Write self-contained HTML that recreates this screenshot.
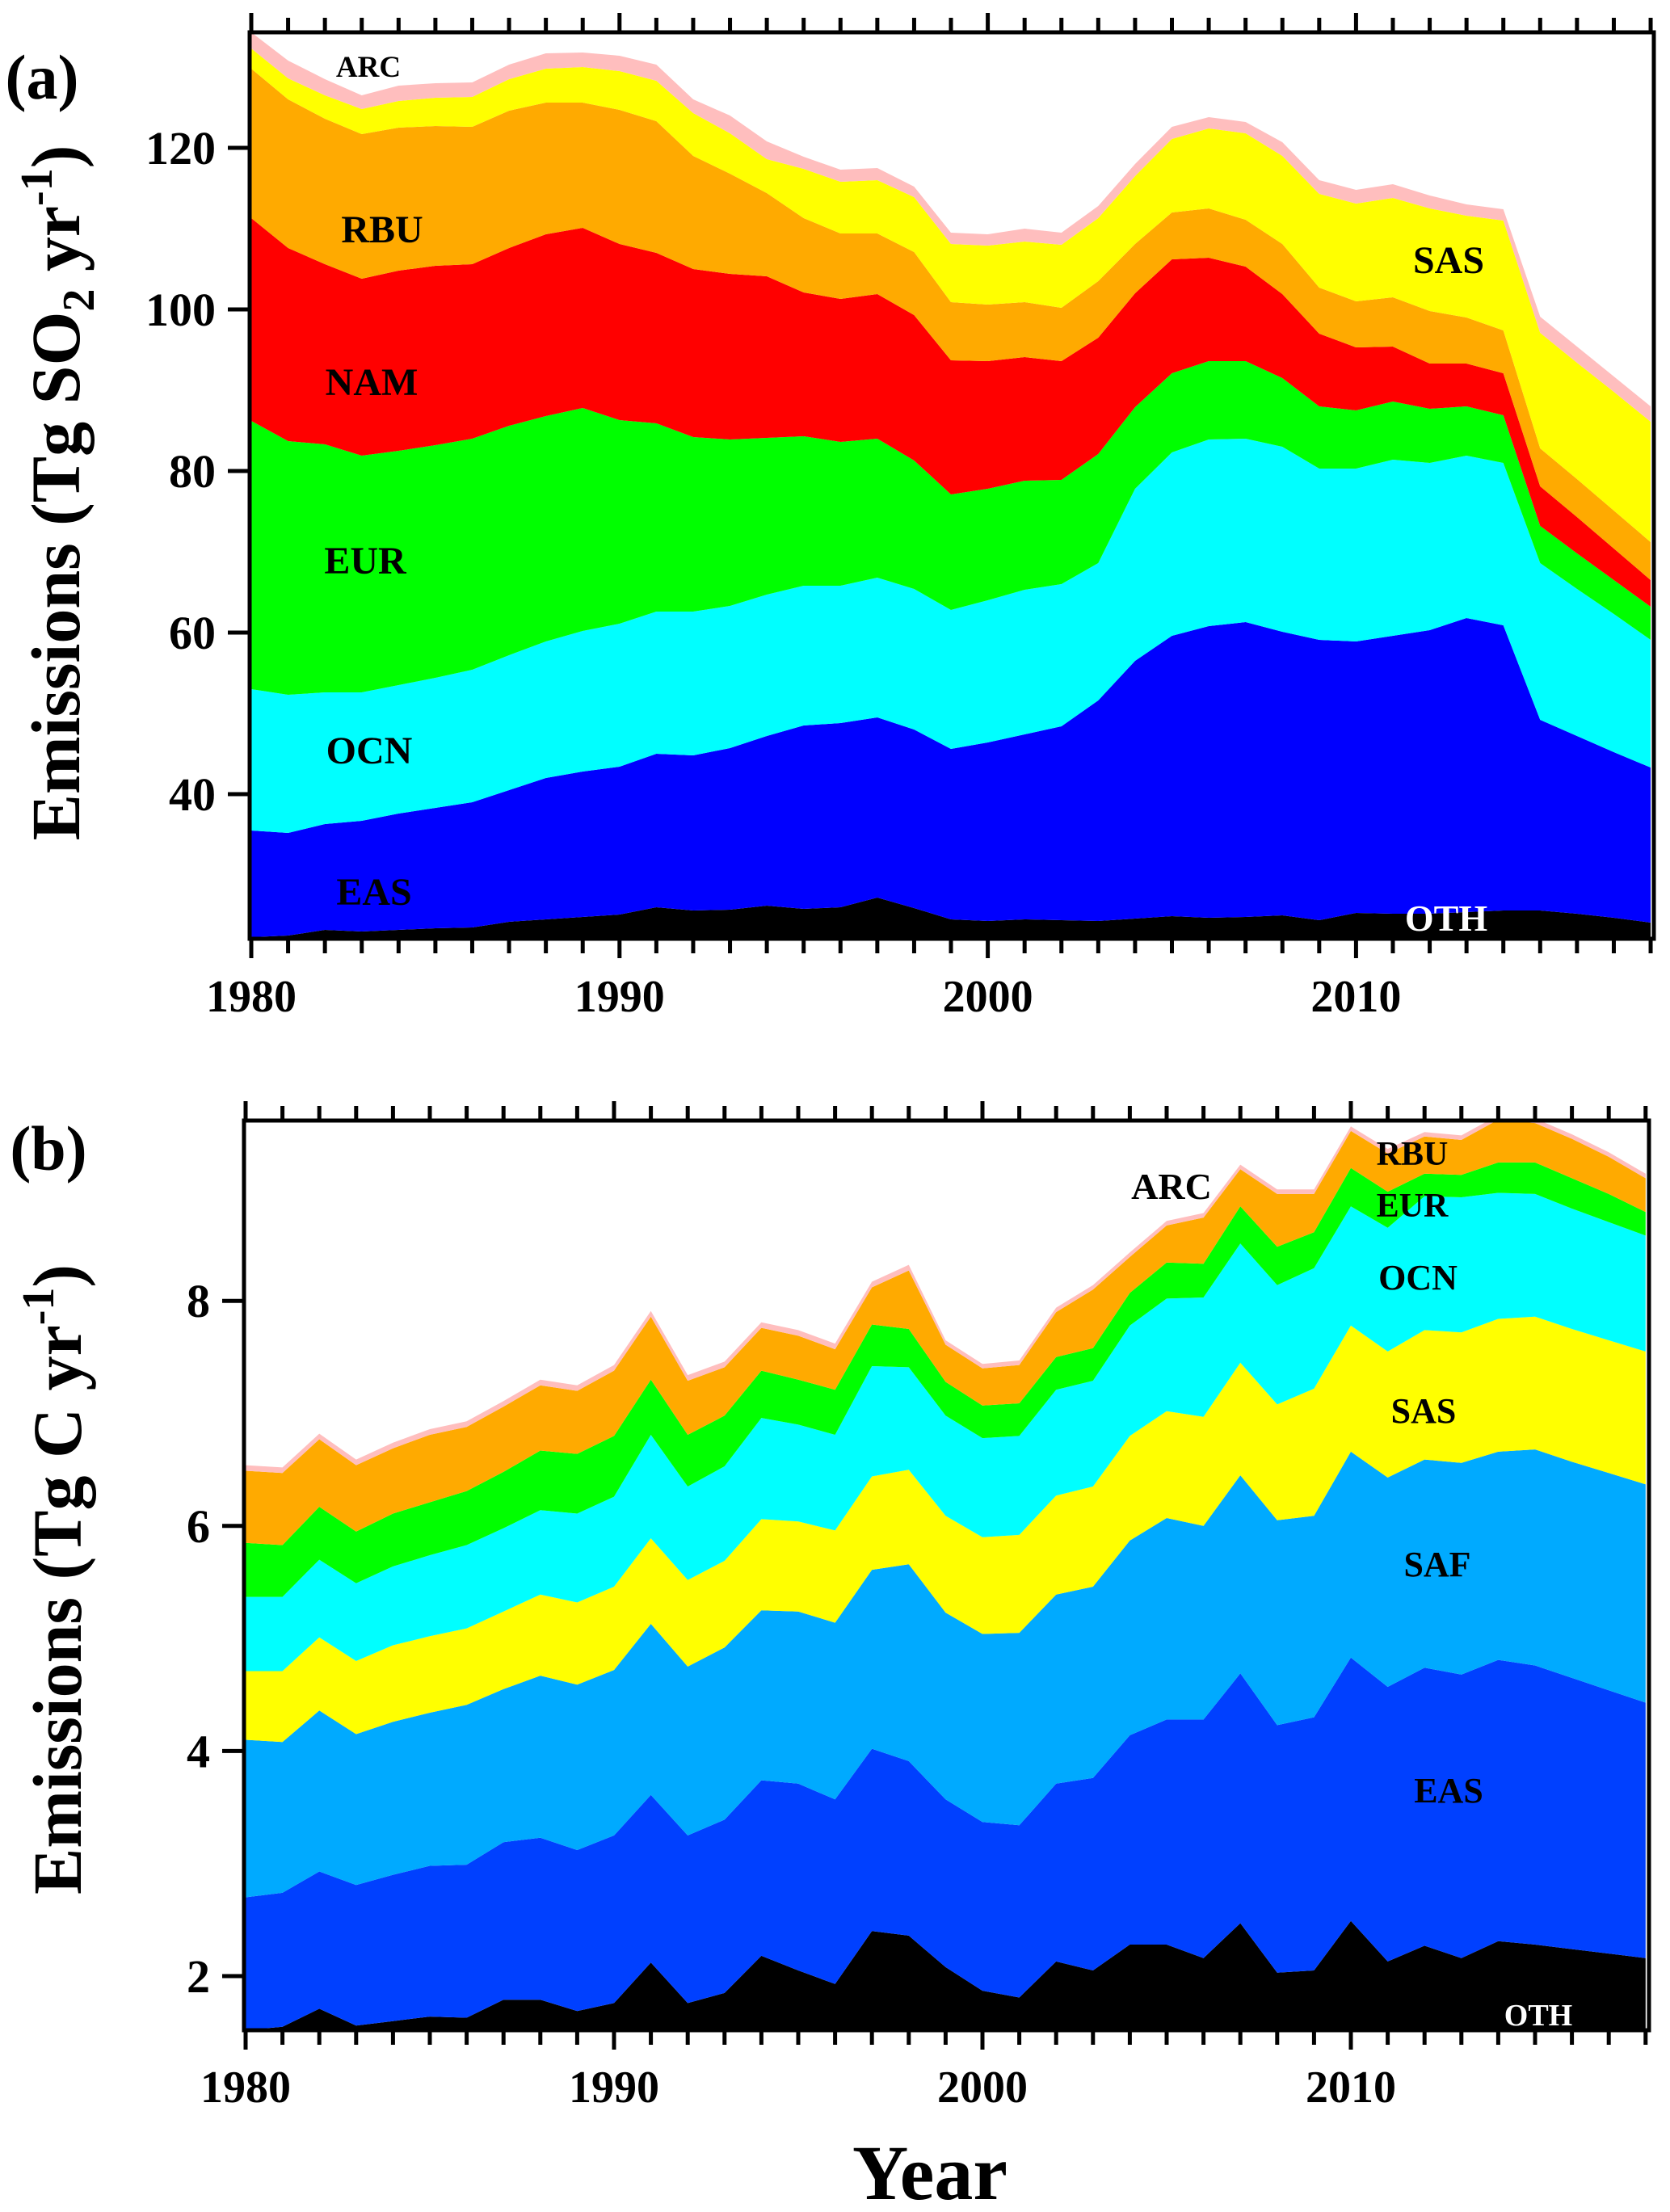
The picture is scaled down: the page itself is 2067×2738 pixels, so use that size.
<!DOCTYPE html>
<html>
<head>
<meta charset="utf-8">
<style>
  html,body{margin:0;padding:0;background:#fff;}
  svg{display:block;}
  text{font-family:"Liberation Serif","Times New Roman",serif;font-weight:bold;}
</style>
</head>
<body>
<svg id="fig" xmlns="http://www.w3.org/2000/svg" width="2067" height="2738" viewBox="0 0 2067 2738">
  <defs>
    <clipPath id="clipA"><rect x="309" y="40" width="1738" height="1122"/></clipPath>
    <clipPath id="clipB"><rect x="302" y="1387" width="1739" height="1126"/></clipPath>
  </defs>
  <g id="panelA"></g>
  <g id="panelB"></g>
  <text x="52" y="122" font-size="78" text-anchor="middle">(a)</text>
  <text x="60" y="1448" font-size="78" text-anchor="middle">(b)</text>
  <text transform="translate(98,610) rotate(-90)" font-size="86" text-anchor="middle">Emissions (Tg SO<tspan font-size="56" dy="18">2</tspan><tspan dy="-18"> yr</tspan><tspan font-size="56" dy="-34">-1</tspan><tspan dy="34">)</tspan></text>
  <text transform="translate(100,1955) rotate(-90)" font-size="86" text-anchor="middle">Emissions (Tg C yr<tspan font-size="56" dy="-34">-1</tspan><tspan dy="34">)</tspan></text>
  <text x="1151" y="2722" font-size="96" text-anchor="middle">Year</text>
</svg>
<script>
// ---------- shared ----------
const years = [1980,1981,1982,1983,1984,1985,1986,1987,1988,1989,1990,1991,1992,1993,1994,1995,1996,1997,1998,1999,2000,2001,2002,2003,2004,2005,2006,2007,2008,2009,2010,2011,2012,2013,2014,2015,2016,2017,2018];
const xTickLabels = [1980,1990,2000,2010];

// ---------- panel (a) SO2, Tg SO2/yr ----------
const regionsA = ["OTH","EAS","OCN","EUR","NAM","RBU","SAS","ARC"];
const othA = [22.3,22.5,23.2,23.0,23.2,23.4,23.5,24.2,24.5,24.8,25.1,26.0,25.6,25.7,26.2,25.8,26.0,27.2,25.9,24.5,24.3,24.5,24.4,24.3,24.6,24.9,24.7,24.8,25.0,24.4,25.3,25.2,25.2,25.4,25.6,25.6,25.2,24.7,24.1];
const easA = [13.2,12.7,13.1,13.7,14.4,14.9,15.5,16.3,17.5,18.0,18.3,19.0,19.2,20.0,21.0,22.7,22.8,22.3,22.1,21.1,22.1,22.9,24.0,27.3,31.9,34.7,36.1,36.5,35.1,34.7,33.6,34.4,35.1,36.4,35.3,23.6,22.0,20.5,19.2];
const ocnA = [17.5,17.1,16.3,15.9,15.9,16.1,16.4,16.7,16.9,17.4,17.7,17.6,17.8,17.6,17.5,17.3,17.0,17.3,17.4,17.2,17.6,17.9,17.6,17.0,21.3,22.7,23.1,22.7,22.9,21.2,21.4,21.8,20.7,20.1,20.1,19.4,18.2,17.1,15.8];
const eurA = [33.2,31.4,30.7,29.3,29.0,28.8,28.6,28.4,27.9,27.6,25.2,23.3,21.6,20.6,19.4,18.5,17.8,17.2,15.9,14.3,13.8,13.5,12.9,13.5,10.1,9.8,9.7,9.6,8.5,7.7,7.2,7.2,6.7,6.1,5.9,4.6,4.4,4.2,4.1];
const namA = [25.1,23.9,22.3,21.9,22.3,22.2,21.6,22.0,22.5,22.3,21.8,21.1,20.8,20.5,20.0,17.8,17.7,17.9,18.0,16.6,15.8,15.3,14.7,14.4,14.1,14.1,12.8,11.7,10.4,9.0,7.8,6.8,5.6,5.3,5.2,4.9,4.5,3.9,3.3];
const rbuA = [18.5,18.4,18.0,17.9,17.7,17.3,17.0,17.0,16.3,15.5,16.6,16.3,14.0,12.4,10.3,9.2,8.1,7.5,7.8,7.2,7.0,6.8,6.6,7.0,6.1,5.8,6.1,5.8,6.2,5.7,5.7,6.1,6.5,5.7,5.3,4.7,4.7,4.7,4.7];
const sasA = [2.5,2.6,2.9,3.1,3.3,3.5,3.7,3.9,4.2,4.4,4.8,5.0,5.3,5.0,4.2,6.1,6.4,6.6,6.8,7.2,7.3,7.5,7.8,7.8,8.4,9.1,9.9,10.7,10.9,11.6,12.1,12.3,12.7,12.6,13.6,14.3,14.4,14.7,14.9];
const arcA = [2.0,2.2,2.0,1.7,1.9,1.8,1.8,1.8,1.9,1.8,1.9,2.0,1.7,2.2,2.2,1.5,1.5,1.5,1.3,1.4,1.4,1.6,1.5,1.5,1.5,1.5,1.4,1.4,1.7,1.7,1.7,1.7,1.6,1.4,1.4,2.0,2.0,1.9,1.9];
const yTicksA = [40,60,80,100,120];

// ---------- panel (b) carbon, Tg C/yr ----------
const regionsB = ["OTH","EAS","SAF","SAS","OCN","EUR","RBU","ARC"];
const othB = [1.52,1.55,1.71,1.56,1.60,1.64,1.63,1.79,1.79,1.69,1.76,2.12,1.76,1.85,2.18,2.05,1.93,2.40,2.36,2.08,1.87,1.81,2.13,2.05,2.28,2.28,2.16,2.47,2.03,2.05,2.49,2.13,2.27,2.16,2.31,2.28,2.24,2.20,2.16];
const easB = [1.18,1.19,1.22,1.25,1.30,1.34,1.36,1.40,1.44,1.43,1.49,1.49,1.49,1.54,1.56,1.66,1.64,1.62,1.55,1.49,1.50,1.53,1.58,1.71,1.86,2.00,2.12,2.22,2.20,2.25,2.34,2.44,2.47,2.52,2.50,2.48,2.41,2.34,2.27];
const safB = [1.40,1.34,1.43,1.34,1.36,1.36,1.42,1.36,1.44,1.47,1.47,1.52,1.50,1.53,1.51,1.53,1.57,1.59,1.75,1.66,1.67,1.71,1.68,1.70,1.73,1.79,1.72,1.76,1.82,1.79,1.83,1.86,1.85,1.88,1.85,1.92,1.92,1.93,1.94];
const sasB = [0.61,0.63,0.65,0.65,0.68,0.68,0.68,0.69,0.72,0.73,0.74,0.76,0.77,0.77,0.81,0.80,0.82,0.83,0.84,0.86,0.86,0.87,0.88,0.89,0.93,0.95,0.97,1.00,1.03,1.13,1.12,1.12,1.15,1.16,1.18,1.18,1.18,1.18,1.18];
const ocnB = [0.66,0.66,0.69,0.69,0.70,0.72,0.74,0.74,0.75,0.79,0.80,0.92,0.83,0.84,0.90,0.86,0.85,0.98,0.91,0.89,0.88,0.88,0.94,0.94,0.98,1.00,1.06,1.06,1.06,1.07,1.06,1.10,1.19,1.20,1.12,1.09,1.07,1.05,1.03];
const eurB = [0.48,0.46,0.47,0.46,0.47,0.47,0.48,0.50,0.53,0.53,0.54,0.49,0.46,0.45,0.42,0.40,0.40,0.37,0.34,0.30,0.29,0.29,0.29,0.29,0.29,0.32,0.30,0.33,0.34,0.32,0.34,0.32,0.20,0.20,0.27,0.28,0.27,0.25,0.21];
const rbuB = [0.64,0.64,0.60,0.59,0.58,0.60,0.57,0.58,0.58,0.56,0.58,0.56,0.48,0.43,0.38,0.39,0.36,0.33,0.52,0.33,0.33,0.34,0.40,0.52,0.32,0.33,0.41,0.33,0.47,0.34,0.33,0.34,0.33,0.31,0.38,0.35,0.35,0.33,0.30];
const arcB = [0.05,0.05,0.05,0.05,0.05,0.05,0.05,0.05,0.05,0.05,0.05,0.05,0.05,0.05,0.05,0.05,0.05,0.05,0.05,0.04,0.04,0.04,0.04,0.04,0.04,0.04,0.04,0.04,0.04,0.04,0.04,0.04,0.04,0.04,0.04,0.04,0.04,0.04,0.04];
const yTicksB = [2,4,6,8];

// ---------- drawing ----------
const NS = "http://www.w3.org/2000/svg";
function mk(tag, parent){ const e = document.createElementNS(NS, tag); parent.appendChild(e); return e; }

function drawPanel(g, cfg){
  const xOf = yr => cfg.x0 + (yr - 1980) * cfg.dx;
  const yOf = v => cfg.yRef - (v - cfg.vRef) * cfg.dy;
  const areas = mk("g", g);
  areas.setAttribute("clip-path", "url(#" + cfg.clip + ")");
  
  
  let lower = years.map(() => 0);
  cfg.series.forEach((vals, si) => {
    const upper = lower.map((l, i) => l + vals[i]);
    let pts = years.map((yr, i) => xOf(yr).toFixed(1) + "," + yOf(upper[i]).toFixed(1));
    for (let i = years.length - 1; i >= 0; i--) pts.push(xOf(years[i]).toFixed(1) + "," + yOf(lower[i]).toFixed(1));
    const p = mk("polygon", areas);
    p.setAttribute("points", pts.join(" "));
    p.setAttribute("fill", cfg.colors[si]);
    
    
    lower = upper;
  });
  // frame
  const f = mk("rect", g);
  f.setAttribute("x", cfg.L); f.setAttribute("y", cfg.T);
  f.setAttribute("width", cfg.R - cfg.L); f.setAttribute("height", cfg.B - cfg.T);
  f.setAttribute("fill", "none"); f.setAttribute("stroke", "#000"); f.setAttribute("stroke-width", "5");
  
  
  // x ticks top & bottom
  years.forEach(yr => {
    const x = xOf(yr);
    const major = (yr % 10 === 0);
    const tb = mk("line", g);
    tb.setAttribute("x1", x); tb.setAttribute("x2", x);
    tb.setAttribute("y1", cfg.B); tb.setAttribute("y2", cfg.B + (major ? 24 : 18));
    tb.setAttribute("stroke", "#000"); tb.setAttribute("stroke-width", "5");
    
    
    const tt = mk("line", g);
    tt.setAttribute("x1", x); tt.setAttribute("x2", x);
    tt.setAttribute("y1", cfg.T); tt.setAttribute("y2", cfg.T - (major ? 24 : 18));
    tt.setAttribute("stroke", "#000"); tt.setAttribute("stroke-width", "5");
    
    
  });
  xTickLabels.forEach(yr => {
    const t = mk("text", g);
    t.setAttribute("x", xOf(yr)); t.setAttribute("y", cfg.xLabelY);
    t.setAttribute("font-size", "56"); t.setAttribute("text-anchor", "middle");
    t.textContent = yr;
    
    
  });
  cfg.yTicks.forEach(v => {
    const y = yOf(v);
    const l = mk("line", g);
    l.setAttribute("x1", cfg.L - 27); l.setAttribute("x2", cfg.L);
    l.setAttribute("y1", y); l.setAttribute("y2", y);
    l.setAttribute("stroke", "#000"); l.setAttribute("stroke-width", "5");
    
    
    const t = mk("text", g);
    t.setAttribute("x", cfg.L - 42); t.setAttribute("y", y + 20);
    t.setAttribute("font-size", "58"); t.setAttribute("text-anchor", "end");
    t.textContent = v;
    
    
  });
  cfg.labels.forEach(lb => {
    const t = mk("text", g);
    t.setAttribute("x", lb[1]); t.setAttribute("y", lb[2]);
    t.setAttribute("font-size", lb[3]); t.setAttribute("text-anchor", "middle");
    t.setAttribute("fill", lb[4] || "#000");
    t.textContent = lb[0];
    
    
  });
}

drawPanel(document.getElementById("panelA"), {
  prefix: "panel-a", clip: "clipA",
  x0: 311, dx: 45.58, yRef: 183, vRef: 120, dy: 10,
  L: 309, R: 2047, T: 40, B: 1162, xLabelY: 1252,
  yTicks: yTicksA,
  series: [othA, easA, ocnA, eurA, namA, rbuA, sasA, arcA],
  names: regionsA,
  colors: ["#000000","#0000FF","#00FFFF","#00FF00","#FF0000","#FFAA00","#FFFF00","#FFBEBE"],
  labels: [["ARC",456,95,37],["RBU",473,300,48],["NAM",460,489,48],["EUR",452,710,48],["OCN",457,945,48],["EAS",463,1120,48],["SAS",1793,338,48],["OTH",1790,1152,46,"#fff"]]
});

drawPanel(document.getElementById("panelB"), {
  prefix: "panel-b", clip: "clipB",
  x0: 304, dx: 45.6, yRef: 2446, vRef: 2, dy: 139.3,
  L: 302, R: 2041, T: 1387, B: 2513, xLabelY: 2602,
  yTicks: yTicksB,
  series: [othB, easB, safB, sasB, ocnB, eurB, rbuB, arcB],
  names: regionsB,
  colors: ["#000000","#0040FF","#00AAFF","#FFFF00","#00FFFF","#00FF00","#FFAA00","#FFBEBE"],
  labels: [["ARC",1450,1484,46],["RBU",1748,1442,42],["EUR",1748,1506,42],["OCN",1755,1596,44],["SAS",1762,1761,44],["SAF",1779,1951,44],["EAS",1793,2231,44],["OTH",1904,2507,38,"#fff"]]
});
</script>
</body>
</html>
